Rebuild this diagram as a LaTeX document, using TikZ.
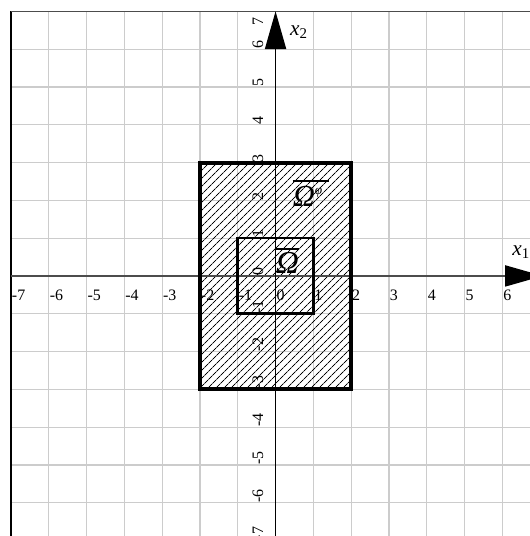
\documentclass[tikz,border=0pt]{standalone}
\usepackage{fontspec}
\setmainfont{Liberation Serif}
\usetikzlibrary{arrows.meta, patterns.meta}
\tikzset{
  gridline/.style={draw=black!20, line width=0.9pt},
  frameline/.style={line width=0.9pt},
  axisx/.style={draw=black!70, line width=1.2pt, -{Triangle[length=10mm, width=5.7mm, color=black, line width=0pt]}},
  axisy/.style={line width=0.6pt, -{Triangle[length=10mm, width=5.7mm, line width=0pt]}},
  xtick/.style={anchor=base west, inner sep=0pt, font=\fontsize{12}{14}\selectfont},
  ytick/.style={xtick, rotate=90},
  region/.style={pattern={Lines[angle=45, distance=4pt, line width=0.7pt]}},
  bigbox/.style={line width=3pt},
  smallbox/.style={line width=2pt},
  omlab/.style={anchor=base west, inner xsep=0pt},
  bar/.style={line width=1.6pt},
  varlab/.style={anchor=base west, inner sep=0pt, font=\fontsize{16}{18}\selectfont},
}

\begin{document}
\begin{tikzpicture}
  \useasboundingbox (-7.29,-6.88) rectangle (6.73,7.30);
  \draw[gridline] (-7,-7) grid (7,7);
  \foreach \i in {-7,...,6}
    \node[xtick] (xl\i) at (\i+0.02,-0.65) {\i};
  \foreach \i in {-7,...,6}
    \node[ytick] (yl\i) at (-0.33,\i) {\i};
  \node[ytick] (yl7) at (-0.33,6.62) {7};
  \fill[region] (-2,-3) rectangle (2,3);
  \draw[frameline] (-7,-7) -- (-7,7);
  \draw[frameline, draw=black!70] (-7,7) -- (7,7);
  \draw[axisx] (-7,0) -- (7.07,0);
  \draw[axisy] (0,-7) -- (0,7);
  \draw[bigbox] (-2,-3) rectangle (2,3);
  \draw[smallbox] (-1,-1) rectangle (1,1);
  \node[omlab, inner ysep=4pt, font=\fontsize{23}{26}\selectfont] (omphi) at (0.45,1.84)
    {\textit{Ω}\raisebox{9pt}{\fontsize{10}{11}\selectfont\textit{φ}}};
  \draw[bar] (omphi.north west) -- ([xshift=5pt]omphi.north east);
  \node[omlab, inner ysep=2.3pt, font=\fontsize{24}{27}\selectfont] (om) at (0,0.07) {\textit{Ω}};
  \draw[bar] (om.north west) -- (om.north east);
  \node[varlab] (x2lab) at (0.38,6.37) {\textit{x}\textsubscript{2}};
  \node[varlab] (x1lab) at (6.26,0.55) {\textit{x}\textsubscript{1}};
\end{tikzpicture}
\end{document}
